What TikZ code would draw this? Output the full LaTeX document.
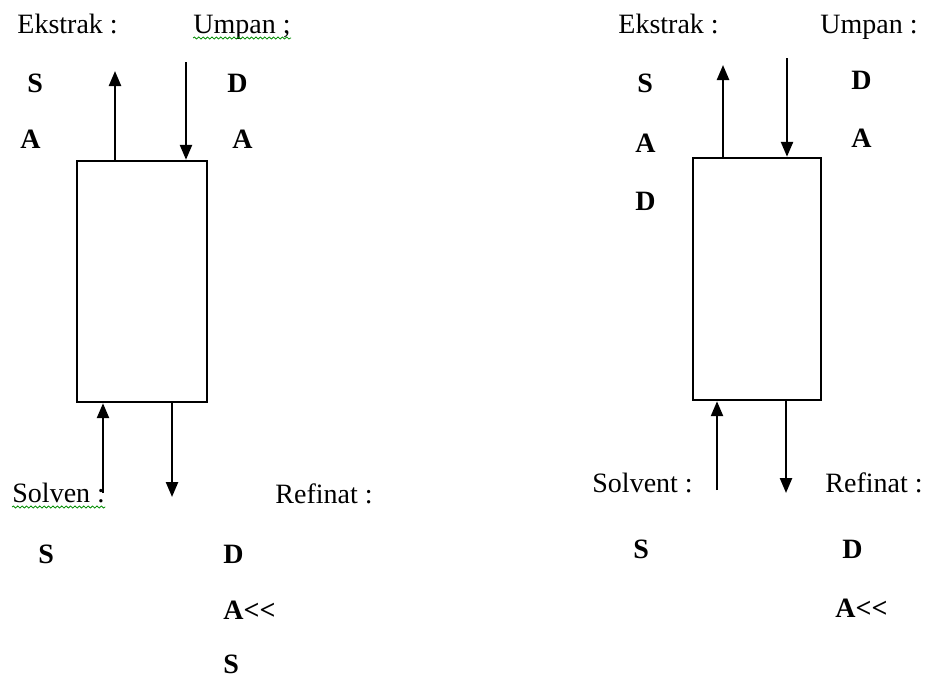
\documentclass[tikz,border=0pt]{standalone}
\usepackage{fontspec}
\setmainfont{Liberation Serif}
\usetikzlibrary{arrows.meta,decorations.pathmorphing}

\begin{document}
\begin{tikzpicture}[x=0.5pt,y=-0.5pt,font=\fontsize{14}{16}\selectfont]
	\useasboundingbox (0,0) rectangle (929,680);
	\tikzset{tip/.style={-{Triangle[length=7.5pt,width=6pt]}},
		wavy/.style={draw=green!55!black,line width=0.4pt,decorate,decoration={snake,amplitude=0.5pt,segment length=2.2pt}}}

	% kolom 1
	\node (kolom1) at (142,281.5) [draw,line width=1.2pt,inner sep=0pt,minimum width=65pt,minimum height=120.5pt] {};
	\begin{scope}[every node/.style={anchor=base west,inner sep=0pt}]
		\node (ekstrak1) at (17,33) {Ekstrak :};
		\node (umpan1) at (193,33) {Umpan ;};
		\node (solven1) at (12,502) {Solven :};
		\node (refinat1) at (275,503) {Refinat :};
	\end{scope}
	\begin{scope}[every node/.style={anchor=base west,inner sep=0pt,font=\fontsize{14}{16}\selectfont\bfseries}]
		\node (eS1) at (27,92) {S};
		\node (eA1) at (20,148) {A};
		\node (uD1) at (227,92) {D};
		\node (uA1) at (232,148) {A};
		\node (sS1) at (38,563) {S};
		\node (rD1) at (223,563) {D};
		\node (rA1) at (223,619) {A<{}<};
		\node (rS1) at (223,673) {S};
	\end{scope}
	\coordinate (ekstrak1out) at (115,71);
	\coordinate (umpan1in) at (186,62);
	\coordinate (solven1in) at (103,493);
	\coordinate (refinat1out) at (172,497);
	\begin{scope}[line width=1.2pt]
		\draw [tip] (ekstrak1out |- kolom1.north) -- (ekstrak1out);
		\draw [tip] (umpan1in) -- (umpan1in |- kolom1.north);
		\draw [tip] (solven1in) -- (solven1in |- kolom1.south);
		\draw [tip] (refinat1out |- kolom1.south) -- (refinat1out);
	\end{scope}
	\path [wavy] ([yshift=-2.5pt]umpan1.base west) -- ([yshift=-2.5pt]umpan1.base east);
	\path [wavy] ([yshift=-2.5pt]solven1.base west) -- ([yshift=-2.5pt]solven1.base east);

	% kolom 2
	\node (kolom2) at (757,279) [draw,line width=1.2pt,inner sep=0pt,minimum width=64pt,minimum height=121pt] {};
	\begin{scope}[every node/.style={anchor=base west,inner sep=0pt}]
		\node (ekstrak2) at (618,33) {Ekstrak :};
		\node (umpan2) at (820,33) {Umpan :};
		\node (solven2) at (592,492) {Solvent :};
		\node (refinat2) at (825,492) {Refinat :};
	\end{scope}
	\begin{scope}[every node/.style={anchor=base west,inner sep=0pt,font=\fontsize{14}{16}\selectfont\bfseries}]
		\node (eS2) at (637,92) {S};
		\node (eA2) at (635,152) {A};
		\node (eD2) at (635,210) {D};
		\node (uD2) at (851,89) {D};
		\node (uA2) at (851,147) {A};
		\node (sS2) at (633,558) {S};
		\node (rD2) at (842,558) {D};
		\node (rA2) at (835,617) {A<{}<};
	\end{scope}
	\coordinate (ekstrak2out) at (723,65);
	\coordinate (umpan2in) at (787,58);
	\coordinate (solven2in) at (717,490);
	\coordinate (refinat2out) at (786,493);
	\begin{scope}[line width=1.2pt]
		\draw [tip] (ekstrak2out |- kolom2.north) -- (ekstrak2out);
		\draw [tip] (umpan2in) -- (umpan2in |- kolom2.north);
		\draw [tip] (solven2in) -- (solven2in |- kolom2.south);
		\draw [tip] (refinat2out |- kolom2.south) -- (refinat2out);
	\end{scope}
\end{tikzpicture}
\end{document}
